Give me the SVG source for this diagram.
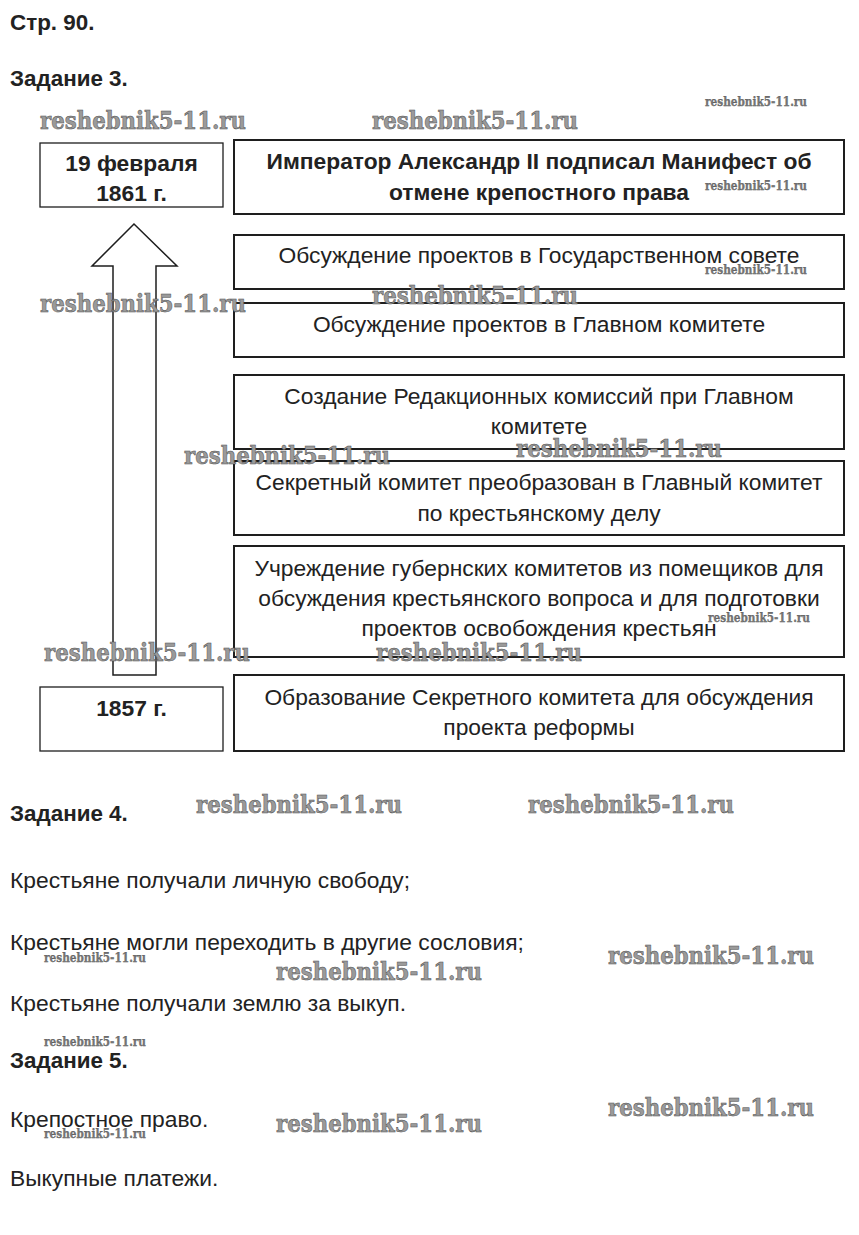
<svg xmlns="http://www.w3.org/2000/svg" width="859" height="1235" viewBox="0 0 859 1235">
<style>
.bg{fill:#ffffff}
.box{fill:none;stroke:#1e1e1e;stroke-width:2}
.lbox{fill:none;stroke:#1e1e1e;stroke-width:1.3}
.arrow{fill:#ffffff;stroke:#1e1e1e;stroke-width:1.5;stroke-linejoin:miter}
.t{font-family:"Liberation Sans",Arial,sans-serif;font-size:22.8px;fill:#222}
.h{font-size:22.4px}
.c{text-anchor:middle}
.b{font-weight:bold}
.wm{font-family:"DejaVu Serif","Liberation Serif",serif;font-weight:bold;fill:#9a9a9a;stroke:#4a4a4a;stroke-width:0.5}
.wl{font-size:24px}
.ws{font-size:12px;stroke-width:0.25;fill:#777}
</style>
<rect class="bg" x="0" y="0" width="859" height="1235"/>

<g id="headers">
<text class="t h b" x="10" y="30">Стр. 90.</text>
<text class="t h b" x="10" y="86">Задание 3.</text>
</g>

<g id="connectors">
<path id="timeline-arrow" class="arrow" d="M113,675 L113,266 L92,266 L134,224 L177,266 L156,266 L156,675 Z"/>
</g>

<g id="node-1861">
<rect class="lbox" x="40" y="143" width="183" height="64"/>
<text class="t b c" x="131.5" y="171">19 февраля</text>
<text class="t b c" x="131.5" y="201">1861 г.</text>
</g>

<g id="node-1857">
<rect class="lbox" x="40" y="687" width="183" height="64"/>
<text class="t b c" x="131.5" y="716">1857 г.</text>
</g>

<g id="node-manifest">
<rect class="box" x="234" y="140" width="610" height="74"/>
<text class="t b c" x="539" y="169">Император Александр II подписал Манифест об</text>
<text class="t b c" x="539" y="200">отмене крепостного права</text>
</g>

<g id="node-gossovet">
<rect class="box" x="234" y="235" width="610" height="54"/>
<text class="t c" x="539" y="263">Обсуждение проектов в Государственном совете</text>
</g>

<g id="node-glavkom">
<rect class="box" x="234" y="303" width="610" height="54"/>
<text class="t c" x="539" y="332">Обсуждение проектов в Главном комитете</text>
</g>

<g id="node-redkom">
<rect class="box" x="234" y="375" width="610" height="74"/>
<text class="t c" x="539" y="404">Создание Редакционных комиссий при Главном</text>
<text class="t c" x="539" y="434">комитете</text>
</g>

<g id="node-secret-to-glav">
<rect class="box" x="234" y="461" width="610" height="74"/>
<text class="t c" x="539" y="490">Секретный комитет преобразован в Главный комитет</text>
<text class="t c" x="539" y="521">по крестьянскому делу</text>
</g>

<g id="node-gubkom">
<rect class="box" x="234" y="546" width="610" height="111"/>
<text class="t c" x="539" y="576">Учреждение губернских комитетов из помещиков для</text>
<text class="t c" x="539" y="606">обсуждения крестьянского вопроса и для подготовки</text>
<text class="t c" x="539" y="636">проектов освобождения крестьян</text>
</g>

<g id="node-secret">
<rect class="box" x="234" y="675" width="610" height="76"/>
<text class="t c" x="539" y="705">Образование Секретного комитета для обсуждения</text>
<text class="t c" x="539" y="735">проекта реформы</text>
</g>

<g id="task4">
<text class="t h b" x="10" y="821">Задание 4.</text>
<text class="t" x="10" y="888">Крестьяне получали личную свободу;</text>
<text class="t" x="10" y="950">Крестьяне могли переходить в другие сословия;</text>
<text class="t" x="10" y="1011">Крестьяне получали землю за выкуп.</text>
</g>

<g id="task5">
<text class="t h b" x="10" y="1068">Задание 5.</text>
<text class="t" x="10" y="1127">Крепостное право.</text>
<text class="t" x="10" y="1186">Выкупные платежи.</text>
</g>

<g id="watermarks">
<text class="wm wl" x="40" y="129" textLength="206" lengthAdjust="spacingAndGlyphs">reshebnik5-11.ru</text>
<text class="wm wl" x="372" y="129" textLength="206" lengthAdjust="spacingAndGlyphs">reshebnik5-11.ru</text>
<text class="wm wl" x="40" y="312" textLength="206" lengthAdjust="spacingAndGlyphs">reshebnik5-11.ru</text>
<text class="wm wl" x="372" y="304" textLength="206" lengthAdjust="spacingAndGlyphs">reshebnik5-11.ru</text>
<text class="wm wl" x="184" y="464" textLength="206" lengthAdjust="spacingAndGlyphs">reshebnik5-11.ru</text>
<text class="wm wl" x="516" y="457" textLength="206" lengthAdjust="spacingAndGlyphs">reshebnik5-11.ru</text>
<text class="wm wl" x="44" y="661" textLength="206" lengthAdjust="spacingAndGlyphs">reshebnik5-11.ru</text>
<text class="wm wl" x="376" y="661" textLength="206" lengthAdjust="spacingAndGlyphs">reshebnik5-11.ru</text>
<text class="wm wl" x="196" y="813" textLength="206" lengthAdjust="spacingAndGlyphs">reshebnik5-11.ru</text>
<text class="wm wl" x="528" y="813" textLength="206" lengthAdjust="spacingAndGlyphs">reshebnik5-11.ru</text>
<text class="wm wl" x="608" y="964" textLength="206" lengthAdjust="spacingAndGlyphs">reshebnik5-11.ru</text>
<text class="wm wl" x="276" y="980" textLength="206" lengthAdjust="spacingAndGlyphs">reshebnik5-11.ru</text>
<text class="wm wl" x="608" y="1116" textLength="206" lengthAdjust="spacingAndGlyphs">reshebnik5-11.ru</text>
<text class="wm wl" x="276" y="1132" textLength="206" lengthAdjust="spacingAndGlyphs">reshebnik5-11.ru</text>
<text class="wm ws" x="705" y="106" textLength="102" lengthAdjust="spacingAndGlyphs">reshebnik5-11.ru</text>
<text class="wm ws" x="705" y="190" textLength="102" lengthAdjust="spacingAndGlyphs">reshebnik5-11.ru</text>
<text class="wm ws" x="705" y="274" textLength="102" lengthAdjust="spacingAndGlyphs">reshebnik5-11.ru</text>
<text class="wm ws" x="708" y="622" textLength="102" lengthAdjust="spacingAndGlyphs">reshebnik5-11.ru</text>
<text class="wm ws" x="44" y="962" textLength="102" lengthAdjust="spacingAndGlyphs">reshebnik5-11.ru</text>
<text class="wm ws" x="44" y="1046" textLength="102" lengthAdjust="spacingAndGlyphs">reshebnik5-11.ru</text>
<text class="wm ws" x="44" y="1138" textLength="102" lengthAdjust="spacingAndGlyphs">reshebnik5-11.ru</text>
</g>
</svg>
